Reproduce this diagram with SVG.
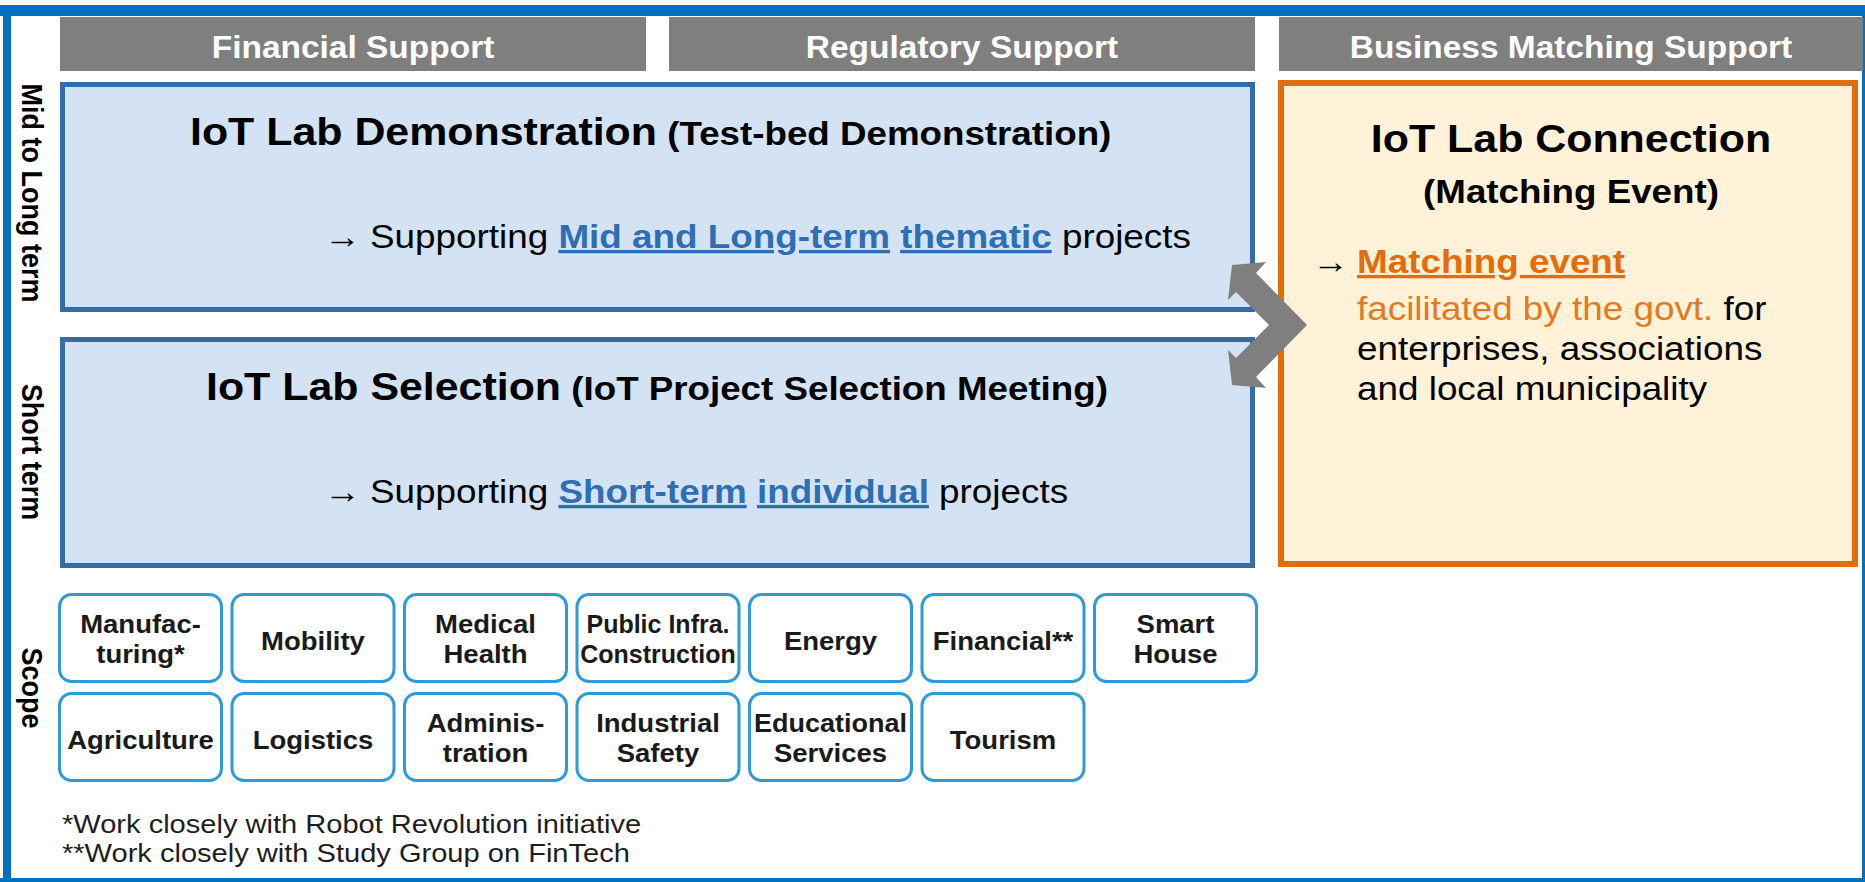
<svg xmlns="http://www.w3.org/2000/svg" width="1865" height="882" viewBox="0 0 1865 882">
  <style>
    text { font-family: "Liberation Sans", Arial, sans-serif; }
    .frame { fill: #0070C0; }
    .hdr-bar { fill: #7F7F7F; }
    .hdr { font-weight: bold; font-size: 31px; fill: #FFFFFF; text-anchor: middle; }
    .blue-box { fill: #D4E3F3; stroke: #346CA8; stroke-width: 5; }
    .orange-box { fill: #FFF2D8; stroke: #E46C0A; stroke-width: 6; }
    .title { font-weight: bold; font-size: 39px; fill: #000; }
    .sub { font-weight: bold; font-size: 33.4px; fill: #000; }
    .body { font-size: 33.5px; fill: #000; }
    .ul-blue { font-weight: bold; fill: #2F6EB2; text-decoration: underline; }
    .ul-orange { font-weight: bold; fill: #E46C0A; text-decoration: underline; }
    .orange { fill: #E47A1E; }
    .vlab { font-weight: bold; font-size: 27px; fill: #000; text-anchor: middle; }
    .scope-box { fill: #FFFFFF; stroke: #2E9BD6; stroke-width: 3; }
    .scope { font-weight: bold; font-size: 25px; fill: #1A1A1A; text-anchor: middle; }
    .foot { font-size: 25.5px; fill: #1E1E1E; }
    .chevron { fill: #7F7F7F; }
  </style>

  <!-- page background and outer frame -->
  <rect x="0" y="0" width="1865" height="882" fill="#FFFFFF"/>
  <g id="frame">
    <rect class="frame" x="0" y="5" width="1865" height="11"/>
    <rect class="frame" x="3" y="5" width="8" height="877"/>
    <rect class="frame" x="1862" y="5" width="3" height="877"/>
    <rect class="frame" x="0" y="878" width="1865" height="4"/>
  </g>

  <!-- column headers -->
  <g id="hdr-financial">
    <rect class="hdr-bar" x="60" y="17" width="586" height="54"/>
    <text class="hdr" transform="translate(353,58) scale(1.08,1)">Financial Support</text>
  </g>
  <g id="hdr-regulatory">
    <rect class="hdr-bar" x="669" y="17" width="586" height="54"/>
    <text class="hdr" transform="translate(962,58) scale(1.08,1)">Regulatory Support</text>
  </g>
  <g id="hdr-business">
    <rect class="hdr-bar" x="1279" y="17" width="584" height="54"/>
    <text class="hdr" transform="translate(1571,58) scale(1.08,1)">Business Matching Support</text>
  </g>

  <!-- row labels (vertical) -->
  <g id="label-mid-long">
    <text class="vlab" transform="translate(22,193) rotate(90) scale(1,1.1)">Mid to Long term</text>
  </g>
  <g id="label-short">
    <text class="vlab" transform="translate(22,452) rotate(90) scale(1,1.1)">Short term</text>
  </g>
  <g id="label-scope">
    <text class="vlab" transform="translate(22,688) rotate(90) scale(1,1.1)">Scope</text>
  </g>

  <!-- IoT Lab Demonstration -->
  <g id="node-demonstration">
    <rect class="blue-box" x="62.5" y="84.5" width="1190" height="225"/>
    <text transform="translate(190,145) scale(1.1,1)"><tspan class="title">IoT Lab Demonstration</tspan><tspan class="sub"> (Test-bed Demonstration)</tspan></text>
    <text class="body" transform="translate(324,248) scale(1.1,1)">→</text>
    <text class="body" transform="translate(370,248) scale(1.1,1)">Supporting <tspan class="ul-blue">Mid and Long-term</tspan> <tspan class="ul-blue">thematic</tspan> projects</text>
  </g>

  <!-- IoT Lab Selection -->
  <g id="node-selection">
    <rect class="blue-box" x="62.5" y="339.5" width="1190" height="226"/>
    <text transform="translate(206,400) scale(1.1,1)"><tspan class="title">IoT Lab Selection</tspan><tspan class="sub"> (IoT Project Selection Meeting)</tspan></text>
    <text class="body" transform="translate(324,503) scale(1.1,1)">→</text>
    <text class="body" transform="translate(370,503) scale(1.1,1)">Supporting <tspan class="ul-blue">Short-term</tspan> <tspan class="ul-blue">individual</tspan> projects</text>
  </g>

  <!-- IoT Lab Connection -->
  <g id="node-connection">
    <rect class="orange-box" x="1281" y="83" width="574" height="481"/>
    <text class="title" text-anchor="middle" transform="translate(1571,152) scale(1.1,1)">IoT Lab Connection</text>
    <text class="sub" text-anchor="middle" transform="translate(1571,203) scale(1.1,1)">(Matching Event)</text>
    <text class="body" transform="translate(1312,273) scale(1.1,1)">→</text>
    <text class="body" transform="translate(1357,273) scale(1.1,1)"><tspan class="ul-orange">Matching event</tspan></text>
    <text class="body" transform="translate(1357,320) scale(1.1,1)"><tspan class="orange">facilitated by the govt.</tspan> for</text>
    <text class="body" transform="translate(1357,360) scale(1.1,1)">enterprises, associations</text>
    <text class="body" transform="translate(1357,400) scale(1.1,1)">and local municipality</text>
  </g>

  <!-- double-headed bent arrow linking both labs to the matching event -->
  <g id="connectors">
    <path class="chevron" d="M1232,265 L1266,262 L1256,273 L1307,325 L1256,377 L1266,388 L1232,385 L1228,350 L1236,358 L1269,325 L1236,292 L1228,300 Z"/>
  </g>

  <!-- scope fields, row 1 -->
  <g id="scope-manufacturing">
    <rect class="scope-box" x="59.5" y="594.5" width="162" height="87" rx="12"/>
    <text class="scope" transform="translate(140.5,633) scale(1.1,1)">Manufac-</text>
    <text class="scope" transform="translate(140.5,663) scale(1.1,1)">turing*</text>
  </g>
  <g id="scope-mobility">
    <rect class="scope-box" x="232" y="594.5" width="162" height="87" rx="12"/>
    <text class="scope" transform="translate(313,650) scale(1.1,1)">Mobility</text>
  </g>
  <g id="scope-medical">
    <rect class="scope-box" x="404.5" y="594.5" width="162" height="87" rx="12"/>
    <text class="scope" transform="translate(485.5,633) scale(1.1,1)">Medical</text>
    <text class="scope" transform="translate(485.5,663) scale(1.1,1)">Health</text>
  </g>
  <g id="scope-public-infra">
    <rect class="scope-box" x="577" y="594.5" width="162" height="87" rx="12"/>
    <text class="scope" transform="translate(658,633)">Public Infra.</text>
    <text class="scope" transform="translate(658,663)">Construction</text>
  </g>
  <g id="scope-energy">
    <rect class="scope-box" x="749.5" y="594.5" width="162" height="87" rx="12"/>
    <text class="scope" transform="translate(830.5,650) scale(1.1,1)">Energy</text>
  </g>
  <g id="scope-financial">
    <rect class="scope-box" x="922" y="594.5" width="162" height="87" rx="12"/>
    <text class="scope" transform="translate(1003,650) scale(1.1,1)">Financial**</text>
  </g>
  <g id="scope-smart-house">
    <rect class="scope-box" x="1094.5" y="594.5" width="162" height="87" rx="12"/>
    <text class="scope" transform="translate(1175.5,633) scale(1.1,1)">Smart</text>
    <text class="scope" transform="translate(1175.5,663) scale(1.1,1)">House</text>
  </g>

  <!-- scope fields, row 2 -->
  <g id="scope-agriculture">
    <rect class="scope-box" x="59.5" y="693.5" width="162" height="87" rx="12"/>
    <text class="scope" transform="translate(140.5,749) scale(1.1,1)">Agriculture</text>
  </g>
  <g id="scope-logistics">
    <rect class="scope-box" x="232" y="693.5" width="162" height="87" rx="12"/>
    <text class="scope" transform="translate(313,749) scale(1.1,1)">Logistics</text>
  </g>
  <g id="scope-administration">
    <rect class="scope-box" x="404.5" y="693.5" width="162" height="87" rx="12"/>
    <text class="scope" transform="translate(485.5,732) scale(1.1,1)">Adminis-</text>
    <text class="scope" transform="translate(485.5,762) scale(1.1,1)">tration</text>
  </g>
  <g id="scope-industrial-safety">
    <rect class="scope-box" x="577" y="693.5" width="162" height="87" rx="12"/>
    <text class="scope" transform="translate(658,732) scale(1.1,1)">Industrial</text>
    <text class="scope" transform="translate(658,762) scale(1.1,1)">Safety</text>
  </g>
  <g id="scope-educational">
    <rect class="scope-box" x="749.5" y="693.5" width="162" height="87" rx="12"/>
    <text class="scope" transform="translate(830.5,732) scale(1.08,1)">Educational</text>
    <text class="scope" transform="translate(830.5,762) scale(1.1,1)">Services</text>
  </g>
  <g id="scope-tourism">
    <rect class="scope-box" x="922" y="693.5" width="162" height="87" rx="12"/>
    <text class="scope" transform="translate(1003,749) scale(1.1,1)">Tourism</text>
  </g>

  <!-- footnotes -->
  <g id="footnotes">
    <text class="foot" transform="translate(62,833) scale(1.14,1)">*Work closely with Robot Revolution initiative</text>
    <text class="foot" transform="translate(62,862) scale(1.14,1)">**Work closely with Study Group on FinTech</text>
  </g>
</svg>
